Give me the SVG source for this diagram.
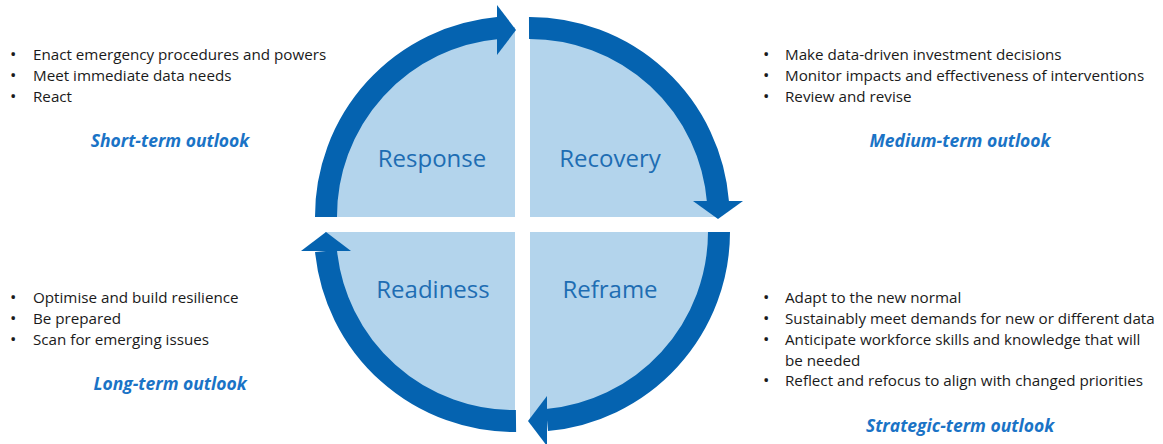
<svg xmlns="http://www.w3.org/2000/svg" width="1163" height="444" viewBox="0 0 1163 444">
<style>
.q{fill:#b3d4ec}
.arc{fill:none;stroke:#0563b0;stroke-width:22}
.head{fill:#0563b0}
.ql{font-family:"Open Sans",sans-serif;font-size:24px;fill:#1e6db3;text-anchor:middle}
.b{font-family:"Open Sans",sans-serif;font-size:15.2px;fill:#1a1a1a}
.d{font-size:17px}
.t{font-family:"Open Sans",sans-serif;font-size:17.5px;font-weight:bold;font-style:italic;fill:#1a73c6;text-anchor:middle}
</style>
<rect width="1163" height="444" fill="#fff"/>
<g id="response">
<path class="q" d="M515,217 L325,217 A190,190 0 0 1 515,27 Z"/>
<text class="ql" x="432" y="167">Response</text>
</g>
<g id="recovery">
<path class="q" d="M530,217 L530,27 A190,190 0 0 1 720,217 Z"/>
<text class="ql" x="610" y="167">Recovery</text>
</g>
<g id="reframe">
<path class="q" d="M530,232 L720,232 A190,190 0 0 1 530,422 Z"/>
<text class="ql" x="610" y="298">Reframe</text>
</g>
<g id="readiness">
<path class="q" d="M515,232 L515,422 A190,190 0 0 1 325,232 Z"/>
<text class="ql" x="433" y="298">Readiness</text>
</g>
<g id="connectors">
<path class="arc" d="M326,217 A189,189 0 0 1 498,28"/>
<polygon class="head" points="497,5 516,30 497,55"/>
<path class="arc" d="M529,28 A189,189 0 0 1 718,202"/>
<polygon class="head" points="693,201 743,201 718,219"/>
<path class="arc" d="M719,232 A189,189 0 0 1 547,420"/>
<polygon class="head" points="547,396 547,446 528,421"/>
<path class="arc" d="M516,421 A189,189 0 0 1 326,251"/>
<polygon class="head" points="301,251 351,251 326,232"/>
</g>
<g id="short-term">
<text class="b" x="10" y="60"><tspan class="d">•</tspan><tspan x="33">Enact emergency procedures and powers</tspan></text>
<text class="b" x="10" y="81"><tspan class="d">•</tspan><tspan x="33">Meet immediate data needs</tspan></text>
<text class="b" x="10" y="102"><tspan class="d">•</tspan><tspan x="33">React</tspan></text>
<text class="t" x="170" y="147">Short-term outlook</text>
</g>
<g id="medium-term">
<text class="b" x="763" y="60"><tspan class="d">•</tspan><tspan x="785">Make data-driven investment decisions</tspan></text>
<text class="b" x="763" y="81"><tspan class="d">•</tspan><tspan x="785">Monitor impacts and effectiveness of interventions</tspan></text>
<text class="b" x="763" y="102"><tspan class="d">•</tspan><tspan x="785">Review and revise</tspan></text>
<text class="t" x="960" y="147">Medium-term outlook</text>
</g>
<g id="long-term">
<text class="b" x="10" y="303"><tspan class="d">•</tspan><tspan x="33">Optimise and build resilience</tspan></text>
<text class="b" x="10" y="324"><tspan class="d">•</tspan><tspan x="33">Be prepared</tspan></text>
<text class="b" x="10" y="345"><tspan class="d">•</tspan><tspan x="33">Scan for emerging issues</tspan></text>
<text class="t" x="170" y="390">Long-term outlook</text>
</g>
<g id="strategic-term">
<text class="b" x="763" y="303"><tspan class="d">•</tspan><tspan x="785">Adapt to the new normal</tspan></text>
<text class="b" x="763" y="324"><tspan class="d">•</tspan><tspan x="785">Sustainably meet demands for new or different data</tspan></text>
<text class="b" x="763" y="345"><tspan class="d">•</tspan><tspan x="785">Anticipate workforce skills and knowledge that will</tspan><tspan x="785" y="366">be needed</tspan></text>
<text class="b" x="763" y="386"><tspan class="d">•</tspan><tspan x="785">Reflect and refocus to align with changed priorities</tspan></text>
<text class="t" x="960" y="432">Strategic-term outlook</text>
</g>
</svg>
